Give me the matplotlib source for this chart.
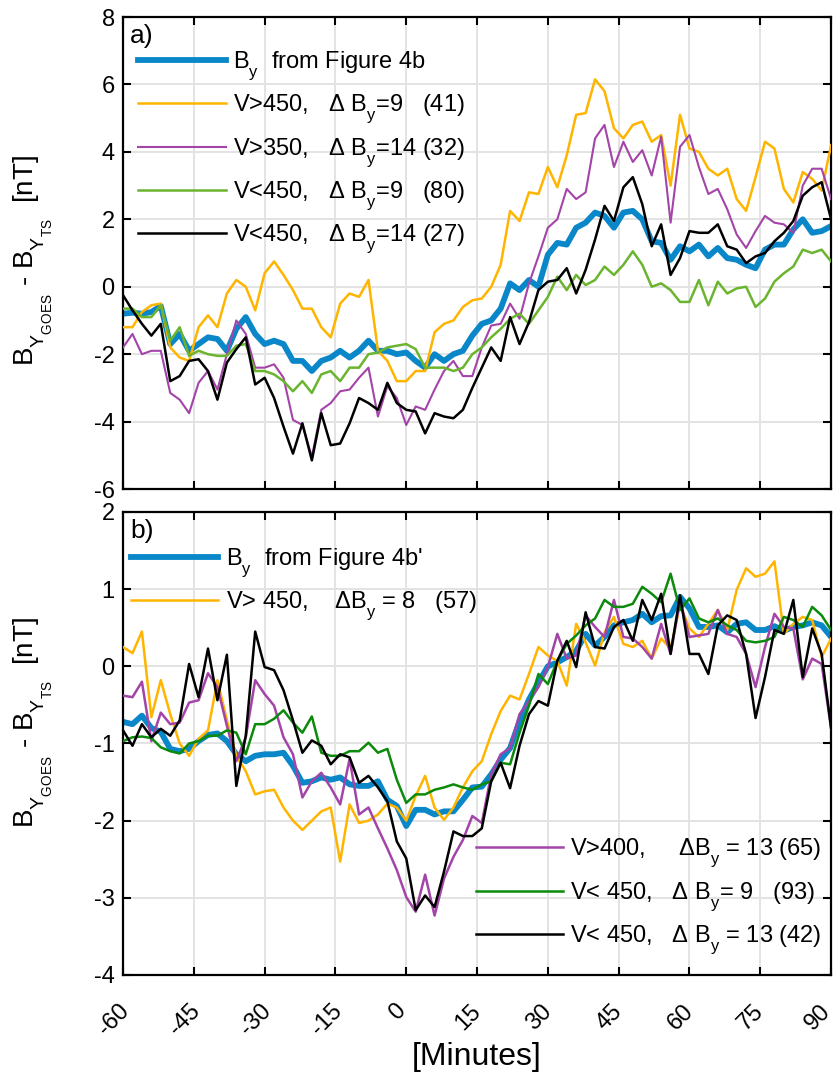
import numpy as np
import matplotlib
matplotlib.use('Agg')
import matplotlib.pyplot as plt
from matplotlib.transforms import ScaledTranslation

plt.rcParams['font.family'] = ['Liberation Sans', 'DejaVu Sans']
plt.rcParams['mathtext.fontset'] = 'custom'
plt.rcParams['mathtext.rm'] = 'Liberation Sans'
plt.rcParams['mathtext.it'] = 'Liberation Sans:italic'
plt.rcParams['mathtext.bf'] = 'Liberation Sans:bold'
plt.rcParams['axes.unicode_minus'] = False

# deeper subscripts, as in the reference typesetting
try:
    import matplotlib._mathtext as _mt
    _mt.FontConstantsBase.sub1 = 0.75
except Exception:
    pass

# ---------------- data ----------------
minutes = np.arange(-60, 91, 2)

# panel a
a_blue = [-0.8, -0.77, -0.8, -0.75, -0.57, -1.7, -1.4, -1.9, -1.7, -1.5,
          -1.55, -1.9, -1.25, -0.9, -1.4, -1.7, -1.6, -1.7, -2.2, -2.2,
          -2.5, -2.2, -2.1, -1.9, -2.1, -1.9, -1.6, -1.9, -1.9, -2.0,
          -1.95, -2.2, -2.4, -2.0, -2.2, -2.0, -1.9, -1.45,
          -1.1, -1.0, -0.65, 0.1, -0.1, 0.2, 0.0, 0.95,
          1.3, 1.25, 1.75, 1.9, 2.2, 2.1, 1.75, 2.2,
          2.25, 2.0, 1.35, 1.3, 0.8, 1.2, 1.05, 1.25,
          0.9, 1.15, 0.85, 0.8, 0.65, 0.55, 1.1, 1.25,
          1.25, 1.7, 2.0, 1.6, 1.65, 1.8]
a_yellow = [-1.2, -1.2, -0.75, -0.55, -0.5, -1.8, -2.1, -2.2, -1.2, -0.85,
            -1.2, -0.2, 0.2, 0.0, -0.7, 0.4, 0.75, 0.35, -0.1, -0.65,
            -0.65, -1.2, -1.5, -0.5, -0.2, -0.3, 0.2, -1.9, -2.2, -2.8,
            -2.8, -2.5, -2.5, -1.35, -1.1, -1.0, -0.6, -0.4,
            -0.35, 0.0, 0.65, 2.25, 1.95, 2.8, 2.75, 3.55,
            2.95, 3.9, 5.1, 5.15, 6.15, 5.8, 4.7, 4.4,
            4.8, 4.9, 4.3, 4.5, 3.0, 5.1, 4.1, 4.0,
            3.5, 3.3, 3.5, 2.6, 2.25, 3.25, 4.3, 4.1,
            2.9, 2.5, 3.4, 3.2, 2.85, 4.2]
a_purple = [-1.8, -1.4, -2.0, -1.9, -1.9, -3.15, -3.35, -3.75, -2.85, -2.5,
            -3.05, -2.0, -1.0, -1.4, -2.4, -2.4, -2.3, -2.7, -3.95, -4.1,
            -5.05, -3.65, -3.45, -3.1, -3.05, -2.7, -2.4, -3.85, -2.95, -3.3,
            -4.1, -3.55, -3.65, -3.05, -2.5, -2.2, -2.65, -2.65,
            -1.8, -1.15, -1.1, -0.5, -0.95, 0.1, 0.9, 1.75,
            2.0, 2.9, 2.6, 2.8, 4.4, 4.8, 3.55, 4.3,
            3.7, 4.05, 3.3, 4.45, 1.9, 4.15, 4.5, 3.55,
            2.75, 2.9, 2.3, 1.55, 1.15, 1.65, 2.1, 1.9,
            1.85, 1.6, 3.0, 3.5, 3.5, 2.6]
a_green = [-0.65, -0.65, -0.9, -0.9, -0.55, -1.6, -1.2, -2.05, -1.9, -2.0,
           -2.05, -2.05, -1.75, -1.7, -2.5, -2.5, -2.6, -2.8, -3.1, -2.8,
           -3.15, -2.6, -2.5, -2.8, -2.4, -2.4, -2.0, -1.95, -1.8, -1.75,
           -1.7, -1.85, -2.4, -2.4, -2.4, -2.5, -2.4, -2.0,
           -1.8, -1.5, -1.25, -0.95, -0.8, -1.1, -0.7, -0.3,
           0.3, -0.1, 0.35, 0.05, 0.2, 0.6, 0.35, 0.65,
           1.05, 0.65, 0.0, 0.1, -0.1, -0.45, -0.45, 0.2,
           -0.55, 0.15, -0.2, -0.05, 0.0, -0.6, -0.35, 0.15,
           0.4, 0.6, 1.1, 1.0, 1.1, 0.75]
a_black = [-0.25, -0.7, -1.1, -1.45, -1.1, -2.8, -2.65, -2.2, -2.15, -2.5,
           -3.35, -2.25, -1.85, -1.5, -2.9, -2.7, -3.3, -4.15, -4.95, -4.05,
           -5.15, -3.75, -4.7, -4.65, -4.05, -3.3, -3.45, -3.65, -2.85, -3.45,
           -3.65, -3.7, -4.35, -3.75, -3.85, -3.9, -3.65, -3.0,
           -2.4, -1.8, -2.2, -0.9, -1.7, -1.05, -0.1, 0.15,
           0.2, 0.55, -0.2, 0.5, 1.4, 2.4, 1.95, 2.95,
           3.25, 2.45, 1.2, 1.85, 0.35, 0.85, 1.65, 1.6,
           1.6, 1.85, 1.2, 1.1, 0.7, 0.9, 1.0, 1.35,
           1.6, 1.95, 2.7, 2.95, 3.1, 2.0]

# panel b
b_blue = [-0.72, -0.75, -0.64, -0.8, -0.85, -1.07, -1.1, -1.07, -0.97, -0.89,
          -0.87, -0.97, -1.14, -1.23, -1.16, -1.14, -1.14, -1.12, -1.29, -1.51,
          -1.49, -1.44, -1.47, -1.44, -1.53, -1.55, -1.55, -1.49, -1.73, -1.81,
          -2.07, -1.86, -1.86, -1.92, -1.88, -1.88, -1.73, -1.57,
          -1.56, -1.4, -1.21, -1.06, -0.71, -0.43, -0.21, 0.0,
          0.05, 0.12, 0.2, 0.42, 0.27, 0.38, 0.53, 0.57,
          0.6, 0.68, 0.57, 0.65, 0.66, 0.9, 0.75, 0.51,
          0.51, 0.53, 0.44, 0.55, 0.57, 0.47, 0.47, 0.52,
          0.46, 0.51, 0.53, 0.57, 0.53, 0.38]
b_yellow = [0.25, 0.17, 0.45, -0.66, -0.18, -0.62, -1.0, -1.16, -0.94, -0.83,
            -0.18, -0.7, -1.16, -1.36, -1.66, -1.62, -1.6, -1.83, -2.0, -2.12,
            -2.0, -1.88, -1.83, -2.53, -1.79, -2.03, -2.0, -1.92, -1.78, -1.83,
            -2.0, -1.68, -1.42, -1.83, -1.99, -1.83, -1.57, -1.36,
            -1.23, -0.88, -0.58, -0.38, -0.43, -0.1, 0.25, 0.14,
            0.07, -0.25, 0.55, 0.31, 0.01, 0.44, 0.64, 0.29,
            0.25, 0.33, 0.1, 0.36, 0.23, 0.8, 0.49, 0.38,
            0.55, 0.73, 0.47, 0.99, 1.27, 1.16, 1.2, 1.36,
            0.42, 0.55, 0.64, 0.6, 0.12, 0.36]
b_purple = [-0.38, -0.4, -0.2, -0.97, -0.6, -0.75, -0.73, -0.47, -0.44, -0.09,
            -0.27, -0.77, -1.23, -0.92, -0.18, -0.36, -0.51, -0.92, -1.14, -1.7,
            -1.49, -1.38, -1.57, -1.79, -1.2, -1.92, -1.83, -2.1, -2.36, -2.64,
            -2.99, -3.18, -2.7, -3.23, -2.75, -2.47, -2.25, -1.94,
            -2.03, -1.4, -1.14, -1.06, -0.62, -0.45, -0.27, -0.01,
            0.42, 0.1, 0.14, 0.66, 0.51, 0.38, 0.86, 0.38,
            0.36, 0.25, 0.1, 0.55, 0.16, 0.85, 0.38, 0.4,
            0.42, 0.73, 0.42, 0.38, 0.16, -0.27, 0.25, 0.68,
            0.51, 0.49, -0.17, 0.1, 0.03, -0.8]
b_green = [-0.97, -0.92, -0.91, -0.93, -1.05, -1.1, -1.13, -1.0, -0.97, -0.9,
           -0.9, -0.83, -0.86, -1.14, -0.75, -0.75, -0.68, -0.57, -0.73, -0.86,
           -0.65, -1.12, -1.16, -1.16, -1.1, -1.1, -0.99, -1.12, -1.07, -1.47,
           -1.77, -1.66, -1.66, -1.6, -1.57, -1.53, -1.57, -1.6,
           -1.53, -1.49, -1.25, -1.27, -0.86, -0.51, -0.1, -0.23,
           0.07, 0.29, 0.4, 0.53, 0.62, 0.86, 0.77, 0.77,
           0.81, 1.03, 0.94, 0.83, 1.2, 0.73, 0.88, 0.62,
           0.57, 0.62, 0.53, 0.47, 0.33, 0.31, 0.33, 0.38,
           0.64, 0.6, 0.51, 0.77, 0.66, 0.47]
b_black = [-0.83, -1.03, -0.75, -0.92, -0.81, -0.9, -0.7, 0.03, -0.4, 0.23,
           -0.44, 0.15, -1.55, -0.9, 0.45, -0.01, -0.05, -0.31, -0.7, -1.12,
           -0.96, -1.03, -1.27, -1.14, -1.18, -1.51, -1.42, -1.57, -1.75, -2.27,
           -2.49, -3.16, -2.97, -3.12, -2.66, -2.14, -2.2, -2.2,
           -2.1, -1.49, -1.25, -1.58, -1.03, -0.62, -0.45, -0.51,
           0.07, 0.33, -0.01, 0.7, 0.25, 0.23, 0.51, 0.6,
           0.33, 0.86, 0.6, 0.94, 0.16, 0.92, 0.16, 0.16,
           -0.1, 0.53, 0.66, 0.6, 0.16, -0.67, -0.14, 0.47,
           0.42, 0.86, -0.14, 0.49, 0.16, -0.8]

labels_a = [r'B$_\mathregular{y}$  from Figure 4b',
            r'V>450,   Δ B$_\mathregular{y}$=9   (41)',
            r'V>350,   Δ B$_\mathregular{y}$=14 (32)',
            r'V<450,   Δ B$_\mathregular{y}$=9   (80)',
            r'V<450,   Δ B$_\mathregular{y}$=14 (27)']
labels_b = [r"B$_\mathregular{y}$  from Figure 4b'",
            r'V> 450,    ΔB$_\mathregular{y}$ = 8   (57)',
            r'V>400,     ΔB$_\mathregular{y}$ = 13 (65)',
            r'V< 450,   Δ B$_\mathregular{y}$= 9   (93)',
            r'V< 450,   Δ B$_\mathregular{y}$ = 13 (42)']
xticks = [-60, -45, -30, -15, 0, 15, 30, 45, 60, 75, 90]

# ---------------- styles ----------------
BLUE = '#0a87c8'
YELLOW = '#ffb400'
PURPLE = '#a344a8'
GREEN_A = '#6ab42e'
GREEN_B = '#0b8a0b'
BLACK = '#000000'
GRID = '#e3e3e3'
LEG_FS = 17

ylab = r'B$_{\mathregular{Y}_{\mathregular{GOES}}}$ - B$_{\mathregular{Y}_{\mathregular{TS}}}$  [nT]'

fig = plt.figure(figsize=(8.33, 10.76), dpi=100)
ax1 = fig.add_axes([0.1477, 0.5455, 0.85, 0.4387])
ax2 = fig.add_axes([0.1477, 0.0939, 0.85, 0.4303])

for ax in (ax1, ax2):
    ax.set_xlim(-60, 90)
    ax.set_xticks(xticks)
    ax.grid(True, color=GRID, lw=1.4, zorder=0)
    ax.set_axisbelow(True)
    ax.tick_params(direction='in', length=6, width=1.5, top=True, right=True,
                   labelsize=17, pad=6)
    for s in ax.spines.values():
        s.set_linewidth(1.6)

leg_kw = dict(frameon=False, fontsize=LEG_FS, handlelength=3.7,
              handletextpad=0.3, labelspacing=0.42, borderaxespad=0.0,
              borderpad=0.4)

# panel a
ax1.set_ylim(-6, 8)
ax1.set_yticks(np.arange(-6, 9, 2))
ax1.set_xticklabels([])
la = []
la += ax1.plot(minutes, a_blue, color=BLUE, lw=4.2, zorder=2)
la += ax1.plot(minutes, a_yellow, color=YELLOW, lw=1.8, zorder=3)
la += ax1.plot(minutes, a_purple, color=PURPLE, lw=1.5, zorder=3)
la += ax1.plot(minutes, a_green, color=GREEN_A, lw=1.8, zorder=3)
la += ax1.plot(minutes, a_black, color=BLACK, lw=1.8, zorder=3)
ax1.legend(la, labels_a, loc='upper left', bbox_to_anchor=(0.008, 0.95),
           **leg_kw)
ax1.text(0.01, 0.985, 'a)', transform=ax1.transAxes, fontsize=19,
         ha='left', va='top')
ax1.set_ylabel(ylab, fontsize=20)
ax1.yaxis.set_label_coords(-0.096, 0.485)

# panel b
ax2.set_ylim(-4, 2)
ax2.set_yticks(np.arange(-4, 3, 1))
ax2.set_xticklabels([str(v) for v in xticks], rotation=45, ha='center')
ax2.tick_params(axis='x', pad=18)
shift = ScaledTranslation(-9 / 100, 0, fig.dpi_scale_trans)
edge = ScaledTranslation(-4 / 100, 0, fig.dpi_scale_trans)
xlabs = ax2.get_xticklabels()
for lab in xlabs:
    lab.set_transform(lab.get_transform() + shift)
xlabs[-1].set_transform(xlabs[-1].get_transform() + edge)
lb = []
lb += ax2.plot(minutes, b_blue, color=BLUE, lw=4.2, zorder=2)
lb += ax2.plot(minutes, b_yellow, color=YELLOW, lw=1.8, zorder=3)
lb += ax2.plot(minutes, b_purple, color=PURPLE, lw=1.8, zorder=3)
lb += ax2.plot(minutes, b_green, color=GREEN_B, lw=1.8, zorder=3)
lb += ax2.plot(minutes, b_black, color=BLACK, lw=1.8, zorder=3)
leg1 = ax2.legend(lb[:2], labels_b[:2], loc='upper left',
                  bbox_to_anchor=(-0.002, 0.945), **leg_kw)
ax2.add_artist(leg1)
ax2.legend(lb[2:], labels_b[2:], loc='upper left',
           bbox_to_anchor=(0.485, 0.318), **leg_kw)
ax2.text(0.01, 0.985, 'b)', transform=ax2.transAxes, fontsize=19,
         ha='left', va='top')
ax2.set_ylabel(ylab, fontsize=20)
ax2.yaxis.set_label_coords(-0.096, 0.546)
ax2.set_xlabel('[Minutes]', fontsize=23, labelpad=2)

fig.savefig('out.png', dpi=100)
